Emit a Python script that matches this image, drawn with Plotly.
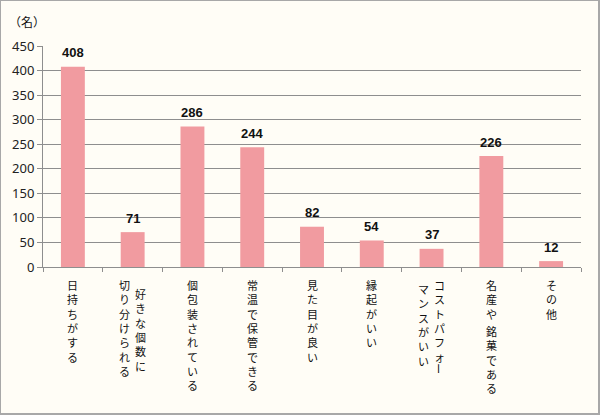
import plotly.graph_objects as go

# ---- data ----
categories = [
    "日持ちがする", "好きな個数に切り分けられる", "個包装されている", "常温で保管できる",
    "見た目が良い", "縁起がいい", "コストパフォーマンスがいい", "名産や銘菓である", "その他",
]
values = [408, 71, 286, 244, 82, 54, 37, 226, 12]
# vertical-writing columns (right column first)
label_columns = [
    ["日持ちがする"],
    ["好きな個数に", "切り分けられる"],
    ["個包装されている"],
    ["常温で保管できる"],
    ["見た目が良い"],
    ["縁起がいい"],
    ["コストパフォー", "マンスがいい"],
    ["名産や 銘菓である"],
    ["その他"],
]
y_ticks = list(range(0, 451, 50))
unit_label = "（名）"

# ---- style ----
W, H = 600, 415
L, R, T, B = 43, 19, 46, 148
PW, PH = W - L - R, H - T - B
BG = "#FFFDF6"
BAR = "#F19BA0"
GRID = "#8E8E8E"
CJK = "Noto Sans CJK JP"
FS = 11
PITCH = FS * 1.3           # plotly line height
SPACE = 0.2                # gap for a space, in lines
FIRST_CENTER = 16          # px below the axis of the first character's centre
COL_SHIFT = {(1, 0): 9, (6, 1): 4}   # extra downward shift of some columns (px)

def px_x(px):
    return (px - L) / PW

def px_y(py):
    return (H - B - py) / PH

fig = go.Figure()
fig.add_trace(go.Bar(x=categories, y=values, marker=dict(color=BAR, line=dict(width=0)),
                     hoverinfo="skip"))

ann = []
# data labels
for c, v in zip(categories, values):
    ann.append(dict(x=c, y=v, xref="x", yref="y", text=f"<b>{v}</b>", showarrow=False,
                    yanchor="middle", yshift=14,
                    font=dict(family="Liberation Sans, Arial", size=13, color="#111")))

# vertical category labels: split each column into runs; "ー" is rotated as in vertical writing
def add_run(cat, run, pos, xo, extra):
    if not run:
        return
    top = FIRST_CENTER + extra + pos * PITCH - PITCH / 2 - 1
    ann.append(dict(x=cat, y=0, xref="x", yref="y", text="<br>".join(run), showarrow=False,
                    xanchor="center", yanchor="top", xshift=xo, yshift=-top,
                    font=dict(family=CJK, size=FS, color="#111")))

for i, (c, cols) in enumerate(zip(categories, label_columns)):
    offs = [0] if len(cols) == 1 else [8, -8]
    for j, (col, xo) in enumerate(zip(cols, offs)):
        extra = COL_SHIFT.get((i, j), 0)
        pos, run, run_start = 0.0, [], 0.0
        for ch in col:
            if ch == " ":
                add_run(c, run, run_start, xo, extra)
                run = []
                pos += SPACE
                run_start = pos
                continue
            if ch == "ー":
                add_run(c, run, run_start, xo, extra)
                run = []
                ann.append(dict(x=c, y=0, xref="x", yref="y", text=ch, showarrow=False,
                                xanchor="center", yanchor="middle", xshift=xo,
                                yshift=-(FIRST_CENTER + extra + pos * PITCH), textangle=90,
                                font=dict(family=CJK, size=FS, color="#111")))
                pos += 1
                run_start = pos
                continue
            run.append(ch)
            pos += 1
        add_run(c, run, run_start, xo, extra)

# unit label
ann.append(dict(x=px_x(27), y=px_y(22), xref="paper", yref="paper", text=unit_label,
                showarrow=False, xanchor="center", yanchor="middle",
                font=dict(family=CJK, size=12, color="#111")))

fig.update_layout(
    width=W, height=H,
    margin=dict(l=L, r=R, t=T, b=B),
    paper_bgcolor=BG, plot_bgcolor=BG,
    bargap=0.6,
    showlegend=False,
    annotations=ann,
    shapes=[dict(type="rect", xref="paper", yref="paper",
                 x0=px_x(0), x1=px_x(599), y0=px_y(414), y1=px_y(0),
                 line=dict(color="#A8A8A8", width=2), fillcolor="rgba(0,0,0,0)", layer="above")],
    xaxis=dict(showticklabels=False, ticks="outside", tickson="boundaries", ticklen=4,
               tickcolor=GRID, showline=True, linecolor=GRID, linewidth=1, showgrid=False,
               fixedrange=True),
    yaxis=dict(range=[0, 450], tickvals=y_ticks, ticks="outside", ticklen=5, tickcolor=GRID,
               showline=True, linecolor=GRID, linewidth=1, showgrid=True, gridcolor=GRID,
               gridwidth=1, zeroline=False,
               tickfont=dict(family="Noto Sans, DejaVu Sans", size=13, color="#222"),
               fixedrange=True),
)

fig.write_html("out.html")
